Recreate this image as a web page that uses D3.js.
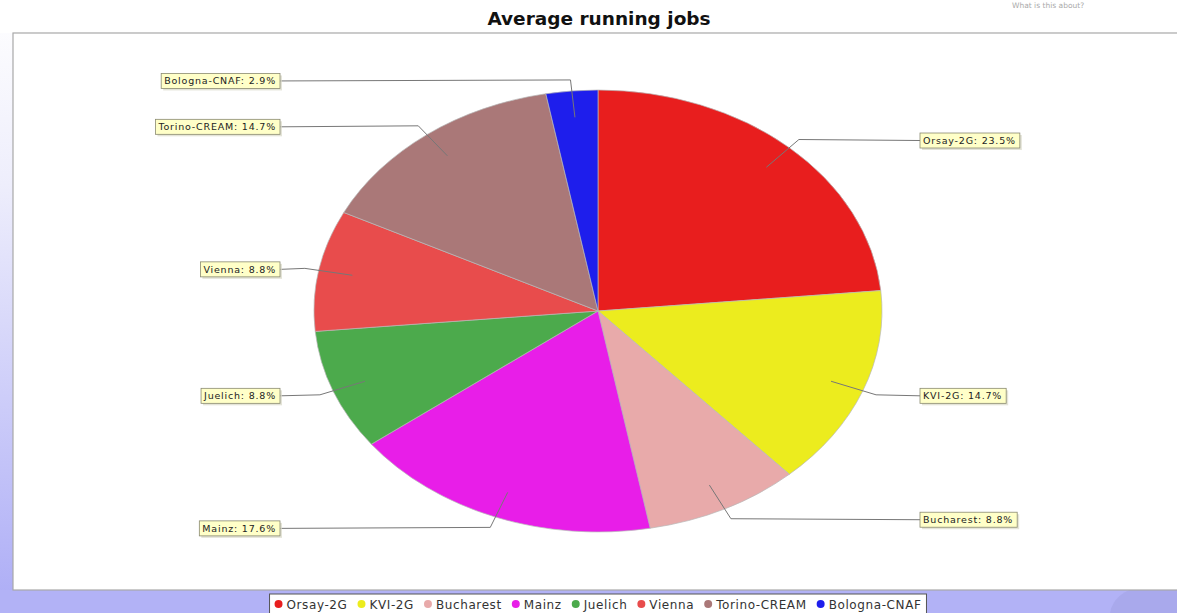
<!DOCTYPE html>
<html>
<head>
<meta charset="utf-8">
<script src="https://cdn.jsdelivr.net/npm/d3@7"></script>
<style>
  body { margin: 0; background: #fff; }
  svg { display: block; }
</style>
</head>
<body>
<svg id="chart" width="1177" height="613"></svg>
<script>
const sites = ["Orsay-2G", "KVI-2G", "Bucharest", "Mainz", "Juelich", "Vienna", "Torino-CREAM", "Bologna-CNAF"];
const jobs = [8, 5, 3, 6, 3, 3, 5, 1];
const colors = ["#e81e1e", "#ecec1e", "#e8aaaa", "#e81ee8", "#4caa4c", "#e84c4c", "#aa7878", "#1e1eec"];

const svg = d3.select("#chart"),
  W = +svg.attr("width"),
  H = +svg.attr("height");

// background gradient (white -> lavender)
const defs = svg.append("defs");
const grad = defs.append("linearGradient")
  .attr("id", "bg").attr("x1", 0).attr("y1", 0).attr("x2", 0).attr("y2", 1);
grad.append("stop").attr("offset", "0%").attr("stop-color", "#ffffff");
grad.append("stop").attr("offset", "30%").attr("stop-color", "#eeeefc");
grad.append("stop").attr("offset", "100%").attr("stop-color", "#acacf6");

svg.append("rect").attr("width", W).attr("height", H).attr("fill", "url(#bg)");
svg.append("rect").attr("width", W).attr("height", 33).attr("fill", "#fff");

// bottom strip
svg.append("rect").attr("x", 0).attr("y", 590).attr("width", W).attr("height", H - 590)
  .attr("fill", "#b2b2f6");
svg.append("ellipse").attr("cx", 1160).attr("cy", 615).attr("rx", 50).attr("ry", 32)
  .attr("fill", "#a4a4e6").attr("opacity", 0.6);

// plot area
const plot = { x: 13, y: 33, w: W - 13 + 5, h: 590 - 33 };
svg.append("rect")
  .attr("x", plot.x).attr("y", plot.y).attr("width", plot.w).attr("height", plot.h)
  .attr("fill", "#fff").attr("stroke", "#a8a8a8").attr("stroke-width", 1.2);

// title
svg.append("text")
  .attr("x", 599).attr("y", 25)
  .attr("text-anchor", "middle")
  .attr("font-family", "DejaVu Sans, sans-serif")
  .attr("font-weight", "bold")
  .attr("font-size", 18.5)
  .attr("fill", "#111")
  .text("Average running jobs");

svg.append("text")
  .attr("x", 1012).attr("y", 8)
  .attr("font-family", "DejaVu Sans, sans-serif")
  .attr("font-size", 7.5)
  .attr("fill", "#aaa")
  .text("What is this about?");

// pie
const cx = 598, cy = 311, rx = 284, ry = 221;
const total = d3.sum(jobs);
const data = sites.map((s, i) => ({ site: s, value: jobs[i], color: colors[i] }));

const pie = d3.pie().sort(null).value((d) => d.value);
const arcs = pie(data);
const arc = d3.arc().innerRadius(0).outerRadius(rx);

const pieG = svg.append("g")
  .attr("transform", `translate(${cx},${cy}) scale(1,${ry / rx})`);

pieG.selectAll("path")
  .data(arcs)
  .join("path")
  .attr("d", arc)
  .attr("fill", (d) => d.data.color)
  .attr("stroke", "#b8b8b8")
  .attr("stroke-width", 0.7)
  .attr("vector-effect", "non-scaling-stroke");

// labels
const pt = (a, k) => [cx + k * rx * Math.sin(a), cy - k * ry * Math.cos(a)];
const fmt = (v) => `${((v / total) * 100).toFixed(1)}%`;
const labelGap = 38;

const labelG = svg.append("g")
  .attr("font-family", "DejaVu Sans, sans-serif")
  .attr("font-size", 9.5)
  .attr("fill", "#222");

arcs.forEach((d) => {
  const mid = (d.startAngle + d.endAngle) / 2;
  const right = Math.sin(mid) >= 0;
  const inner = pt(mid, 0.88);
  const elbow = pt(mid, 1.05);
  const ly = elbow[1] + 1;
  const lx = right ? cx + rx + labelGap : cx - rx - labelGap + 4;

  const g = labelG.append("g");
  const txt = g.append("text")
    .attr("y", ly + 3.5)
    .attr("letter-spacing", 0.8)
    .text(`${d.data.site}: ${fmt(d.data.value)}`);
  const tw = txt.node().getComputedTextLength() + 1;
  const bw = tw + 6, bh = 15;
  const bx = right ? lx : lx - bw;
  txt.attr("x", bx + 3);

  g.insert("rect", "text")
    .attr("x", bx + 2).attr("y", ly - bh / 2 + 2)
    .attr("width", bw).attr("height", bh)
    .attr("fill", "#d8d8c8").attr("opacity", 0.7);
  g.insert("rect", "text")
    .attr("x", bx).attr("y", ly - bh / 2)
    .attr("width", bw).attr("height", bh)
    .attr("fill", "#ffffc8")
    .attr("stroke", "#8a8a70").attr("stroke-width", 0.8);

  labelG.insert("polyline", "g")
    .attr("points", [inner, elbow, [lx, ly]].map((p) => p.join(",")).join(" "))
    .attr("fill", "none")
    .attr("stroke", "#777")
    .attr("stroke-width", 1);
});

// legend
const legend = svg.append("g")
  .attr("font-family", "DejaVu Sans, sans-serif")
  .attr("font-size", 12);
const items = legend.selectAll("g.item")
  .data(data)
  .join("g")
  .attr("class", "item");
items.append("circle").attr("r", 4).attr("fill", (d) => d.color);
items.append("text")
  .attr("x", 8).attr("y", 4.5)
  .attr("fill", "#333")
  .attr("letter-spacing", 0.6)
  .text((d) => d.site);

const gap = 14;
let x = 0;
const pos = [];
items.each(function () {
  const w = d3.select(this).select("text").node().getComputedTextLength();
  pos.push(x);
  x += 8 + w + gap;
});
const legW = x - gap + 14;
const legX = cx - legW / 2;
const legY = 594;
legend.insert("rect", "g")
  .attr("x", legX).attr("y", legY)
  .attr("width", legW).attr("height", 24)
  .attr("fill", "#fff")
  .attr("stroke", "#555").attr("stroke-width", 1);
items.attr("transform", (d, i) => `translate(${legX + 9 + pos[i]},${legY + 10})`);
</script>
</body>
</html>
